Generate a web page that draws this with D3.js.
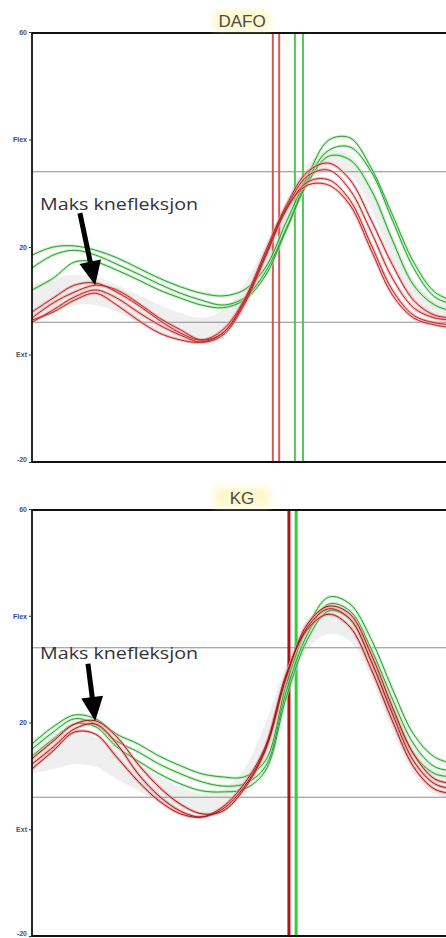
<!DOCTYPE html>
<html>
<head>
<meta charset="utf-8">
<title>Knefleksjon - DAFO / KG</title>
<script src="https://d3js.org/d3.v7.min.js"></script>
<style>
  body { margin: 0; background: #fff; }
  svg { display: block; font-family: "Liberation Sans", Arial, sans-serif; }
</style>
</head>
<body>
<div id="chart"></div>
<script>
// gait cycle, percent
const gaitPct = [0, 5, 10, 15, 20, 25, 30, 35, 40, 45, 50, 55, 60, 65, 70, 75, 80, 85, 90, 95, 100];

// y axis (knee flexion, degrees)
const yTicks = [60, 40, 20, 0, -20];
const yTickLabels = ["60", "Flex", "20", "Ext", "-20"];
const refLines = [34, 6];

// DAFO - green side
const dafoGreen = [
  [18.5, 20.0, 20.2, 19.4, 18.0, 16.1, 14.2, 12.6, 11.4, 10.9, 12.0, 16.1, 24.7, 33.2, 39.9, 40.3, 34.7, 26.0, 17.2, 11.6, 9.8],
  [16.1, 18.5, 19.4, 18.5, 16.8, 15.0, 13.1, 11.4, 10.1, 9.2, 10.5, 15.3, 23.5, 32.5, 38.0, 38.6, 34.0, 25.0, 16.1, 10.7, 9.2],
  [12.0, 14.2, 17.2, 17.2, 15.7, 13.9, 12.0, 10.5, 9.2, 8.7, 10.1, 14.6, 23.2, 31.9, 36.9, 36.2, 30.6, 21.3, 12.9, 9.2, 7.9]
];
// DAFO - red side
const dafoRed = [
  [7.9, 10.5, 12.9, 13.3, 11.6, 9.2, 6.4, 4.0, 2.7, 4.6, 10.1, 19.1, 27.8, 34.0, 35.6, 32.5, 25.0, 16.7, 10.1, 7.3, 6.8],
  [6.8, 9.6, 11.6, 12.9, 12.0, 9.6, 6.8, 4.6, 2.7, 4.0, 9.6, 18.5, 27.3, 33.2, 34.3, 30.6, 22.8, 14.2, 8.7, 6.8, 6.4],
  [6.0, 8.3, 10.7, 12.0, 10.5, 7.9, 5.5, 3.6, 2.3, 3.6, 9.2, 18.0, 26.9, 32.1, 32.5, 28.7, 20.4, 12.0, 7.3, 5.9, 5.5],
  [6.4, 7.9, 10.1, 11.4, 9.2, 6.4, 4.0, 2.7, 2.3, 4.0, 9.8, 18.5, 27.3, 31.5, 31.5, 27.8, 19.4, 11.1, 6.8, 5.5, 4.9]
];
const dafoNormUpper = [12.9, 14.2, 14.8, 14.4, 12.9, 11.1, 9.2, 7.7, 6.8, 8.3, 12.9, 20.4, 28.7, 35.3, 38.0, 37.1, 31.5, 22.2, 13.9, 10.1, 9.2];
const dafoNormLower = [6.8, 8.3, 9.2, 9.2, 7.9, 6.0, 4.2, 2.7, 1.8, 3.1, 8.3, 15.7, 24.7, 32.1, 34.7, 33.4, 26.9, 17.2, 9.2, 6.0, 5.5];
const dafoRedToeOff = [56.8, 58.3];
const dafoGreenToeOff = [62.0, 63.9];

// KG - green side
const kgGreen = [
  [16.0, 19.2, 21.4, 20.7, 17.8, 16.0, 13.7, 11.9, 10.4, 9.8, 9.8, 12.8, 27.2, 37.9, 43.5, 42.2, 35.6, 26.3, 17.8, 13.5, 12.2],
  [15.0, 18.2, 20.7, 19.7, 16.5, 14.5, 12.2, 10.4, 8.9, 8.1, 8.5, 11.7, 25.9, 36.6, 42.2, 40.9, 33.8, 24.4, 16.0, 11.7, 10.9],
  [13.7, 16.9, 19.7, 19.2, 15.4, 12.8, 10.4, 8.5, 7.2, 7.0, 7.5, 10.9, 24.8, 35.6, 40.9, 39.4, 31.5, 22.2, 14.1, 10.4, 9.8]
];
// KG - red side
const kgRed = [
  [13.2, 16.5, 19.7, 20.3, 17.3, 12.2, 7.9, 4.7, 2.9, 3.4, 7.5, 14.7, 28.5, 38.5, 41.8, 40.3, 32.8, 22.9, 14.1, 9.4, 8.5],
  [12.2, 15.4, 18.8, 19.7, 16.0, 10.4, 6.2, 3.4, 2.3, 3.8, 7.9, 15.0, 28.9, 37.9, 41.3, 39.4, 31.5, 21.6, 12.8, 8.5, 7.5],
  [11.3, 14.7, 18.2, 17.8, 13.5, 9.0, 5.3, 2.9, 2.3, 4.2, 8.5, 15.4, 29.1, 37.5, 40.3, 37.9, 30.0, 20.3, 11.7, 7.5, 6.6]
];
const kgNormUpper = [17.3, 17.8, 18.2, 17.3, 15.0, 12.2, 9.8, 7.9, 6.6, 7.5, 11.3, 19.7, 31.0, 39.4, 41.6, 40.3, 33.8, 24.4, 16.0, 11.3, 10.4];
const kgNormLower = [10.4, 11.3, 12.2, 11.7, 9.4, 7.2, 5.3, 3.8, 2.9, 3.4, 6.6, 13.2, 24.4, 33.8, 36.6, 35.3, 28.2, 18.4, 10.4, 6.6, 5.7];
const kgRedToeOff = [60.6];
const kgGreenToeOff = [62.3];

// annotation: [pct, deg] for text, arrow tail, arrow tip
const noteText = "Maks knefleksjon";
const dafoNote = { text: [1.9, 26.9], tail: [11.3, 26.3], tip: [14.9, 12.9] };
const kgNote = { text: [1.9, 31.9], tail: [13.2, 31.0], tip: [14.9, 20.3] };

const width = 446, height = 938;
const left = 32;

const svg = d3.select("#chart")
  .append("svg")
  .attr("width", width)
  .attr("height", height);

const defs = svg.append("defs");
defs.append("filter").attr("id", "soft")
  .attr("x", "-50%").attr("y", "-50%").attr("width", "200%").attr("height", "200%")
  .append("feGaussianBlur").attr("stdDeviation", 3);

const x = d3.scaleLinear().domain([0, 100]).range([left, 456]);

const panels = [
  { title: "DAFO", top: 33, bottom: 462, green: dafoGreen, red: dafoRed,
    upper: dafoNormUpper, lower: dafoNormLower, redOff: dafoRedToeOff, greenOff: dafoGreenToeOff,
    note: dafoNote, offWidth: 2, redOffColor: "#d0585a", greenOffColor: "#55c25a",
    redColor: "#b02a2a", redHalo: "#f29a9a" },
  { title: "KG", top: 510, bottom: 936, green: kgGreen, red: kgRed,
    upper: kgNormUpper, lower: kgNormLower, redOff: kgRedToeOff, greenOff: kgGreenToeOff,
    note: kgNote, offWidth: 3, redOffColor: "#a8141a", greenOffColor: "#2fcf3a",
    redColor: "#9a1a1a", redHalo: "#ee9090" }
];

panels.forEach((p, k) => {
  const y = d3.scaleLinear().domain([-20, 60]).range([p.bottom, p.top - 1]);
  const g = svg.append("g").attr("class", "panel");

  // clip to plot area
  defs.append("clipPath").attr("id", "clip" + k)
    .append("rect")
    .attr("x", left).attr("y", p.top)
    .attr("width", width - left).attr("height", p.bottom - p.top);
  const plot = g.append("g").attr("clip-path", "url(#clip" + k + ")");

  // normal band
  const area = d3.area()
    .x((d, i) => x(gaitPct[i]))
    .y0((d, i) => y(p.lower[i]))
    .y1(d => y(d))
    .curve(d3.curveCatmullRom.alpha(0.5));
  plot.append("path")
    .datum(p.upper)
    .attr("d", area)
    .attr("fill", "#efefef");

  // reference lines
  plot.selectAll(".ref")
    .data(refLines)
    .enter().append("line")
    .attr("class", "ref")
    .attr("x1", left).attr("x2", width)
    .attr("y1", d => y(d)).attr("y2", d => y(d))
    .attr("stroke", "#8c8c8c")
    .attr("stroke-width", 1);

  // toe-off lines
  plot.selectAll(".off-red")
    .data(p.redOff)
    .enter().append("line")
    .attr("class", "off-red")
    .attr("x1", d => x(d)).attr("x2", d => x(d))
    .attr("y1", p.top).attr("y2", p.bottom)
    .attr("stroke", p.redOffColor)
    .attr("stroke-width", p.offWidth);
  plot.selectAll(".off-green")
    .data(p.greenOff)
    .enter().append("line")
    .attr("class", "off-green")
    .attr("x1", d => x(d)).attr("x2", d => x(d))
    .attr("y1", p.top).attr("y2", p.bottom)
    .attr("stroke", p.greenOffColor)
    .attr("stroke-width", p.offWidth);

  // curves
  const line = d3.line()
    .x((d, i) => x(gaitPct[i]))
    .y(d => y(d))
    .curve(d3.curveCatmullRom.alpha(0.5));

  function drawSet(data, halo, core) {
    plot.selectAll(null).data(data).enter().append("path")
      .attr("d", line).attr("fill", "none")
      .attr("stroke", halo).attr("stroke-width", 3).attr("stroke-opacity", 0.65);
    plot.selectAll(null).data(data).enter().append("path")
      .attr("d", line).attr("fill", "none")
      .attr("stroke", core).attr("stroke-width", 1);
  }
  drawSet(p.green, "#a6eaa6", "#2e9a36");
  drawSet(p.red, p.redHalo, p.redColor);

  // frame
  g.append("line").attr("x1", left).attr("x2", width).attr("y1", p.top).attr("y2", p.top)
    .attr("stroke", "#111").attr("stroke-width", 1.8);
  g.append("line").attr("x1", left).attr("x2", width).attr("y1", p.bottom).attr("y2", p.bottom)
    .attr("stroke", "#111").attr("stroke-width", 1.8);
  g.append("line").attr("x1", left).attr("x2", left).attr("y1", p.top).attr("y2", p.bottom)
    .attr("stroke", "#111").attr("stroke-width", 1.8);

  // y axis ticks
  const yAxis = d3.axisLeft(y)
    .tickValues(yTicks)
    .tickFormat((d, i) => yTickLabels[i])
    .tickSize(3)
    .tickPadding(2);
  const ax = g.append("g")
    .attr("transform", "translate(" + left + ",0)")
    .call(yAxis);
  ax.select(".domain").remove();
  ax.selectAll("text")
    .style("font-size", "7px")
    .style("font-weight", "bold")
    .attr("fill", (d, i) => (i === 1 || i === 2) ? "#3b3bb0" : "#555")
    .attr("dy", (d, i) => i === yTicks.length - 1 ? "-0.1em" : "0.32em");
  ax.selectAll("line").attr("stroke", "#333");

  // title with yellow glow
  const tx = 242, ty = p.top - 6;
  g.append("rect")
    .attr("x", tx - 28).attr("y", ty - 17)
    .attr("width", 56).attr("height", 20)
    .attr("fill", "#fff6b8")
    .attr("opacity", 0.7)
    .attr("filter", "url(#soft)");
  g.append("text")
    .attr("x", tx).attr("y", ty)
    .attr("text-anchor", "middle")
    .style("font-size", "17px")
    .attr("fill", "#4a4a4a")
    .text(p.title);

  // annotation
  const n = p.note;
  g.append("text")
    .attr("x", x(n.text[0])).attr("y", y(n.text[1]))
    .attr("textLength", 158)
    .attr("lengthAdjust", "spacingAndGlyphs")
    .style("font-family", "'Open Sans', sans-serif")
    .style("font-size", "16px")
    .attr("fill", "#333")
    .text(noteText);

  const t0 = [x(n.tail[0]), y(n.tail[1])];
  const t1 = [x(n.tip[0]), y(n.tip[1])];
  const len = Math.hypot(t1[0] - t0[0], t1[1] - t0[1]);
  const u = [(t1[0] - t0[0]) / len, (t1[1] - t0[1]) / len];
  const nv = [-u[1], u[0]];
  const headL = 24, headW = 11;
  const base = [t1[0] - u[0] * headL, t1[1] - u[1] * headL];
  g.append("line")
    .attr("x1", t0[0]).attr("y1", t0[1])
    .attr("x2", base[0] + u[0] * 2).attr("y2", base[1] + u[1] * 2)
    .attr("stroke", "#000").attr("stroke-width", 5);
  g.append("path")
    .attr("d", "M" + t1 + "L" + [base[0] + nv[0] * headW, base[1] + nv[1] * headW] +
               "L" + [base[0] - nv[0] * headW, base[1] - nv[1] * headW] + "Z")
    .attr("fill", "#000");
});
</script>
</body>
</html>
